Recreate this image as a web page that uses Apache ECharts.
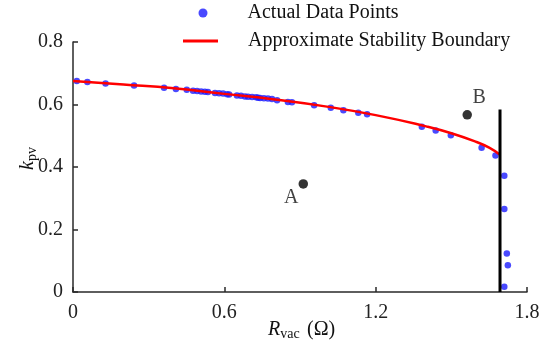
<!DOCTYPE html>
<html><head><meta charset="utf-8">
<script src="https://cdn.jsdelivr.net/npm/echarts@6/dist/echarts.min.js"></script>
<style>html,body{margin:0;padding:0;background:#fff}#c{width:558px;height:345px}</style>
</head><body><div id="c"></div>
<script>
var dataX = [0.015,0.057,0.129,0.242,0.361,0.408,0.451,0.476,0.492,0.508,0.523,0.535,0.563,0.579,0.595,0.611,0.619,0.650,0.666,0.682,0.694,0.710,0.726,0.734,0.742,0.757,0.773,0.789,0.809,0.852,0.868,0.956,1.022,1.072,1.131,1.166,1.383,1.438,1.498,1.620,1.675,1.710,1.710,1.720,1.724,1.710];
var dataY = [0.675,0.672,0.667,0.661,0.654,0.650,0.647,0.644,0.643,0.642,0.641,0.640,0.637,0.636,0.635,0.633,0.632,0.629,0.628,0.626,0.625,0.624,0.623,0.622,0.621,0.620,0.619,0.618,0.614,0.608,0.607,0.598,0.590,0.582,0.574,0.569,0.529,0.517,0.502,0.462,0.437,0.372,0.266,0.123,0.086,0.017];
var curveX = [0,0.2,0.4,0.6,0.8,1.0,1.2,1.4,1.5,1.6,1.65,1.69];
var curveY = [0.675,0.664,0.652,0.634,0.616,0.594,0.566,0.530,0.508,0.480,0.462,0.441];
var limitX = [1.693,1.693];
var limitY = [0,0.584];
var markNames = ['A','B'];
var markX = [0.913,1.563];
var markY = [0.346,0.567];
var xTicks = [0,0.6,1.2,1.8];
var yTicks = [0,0.2,0.4,0.6,0.8];

var FF = 'Liberation Serif, Times New Roman, serif';
var zip = function(a,b){return a.map(function(v,i){return [v,b[i]];});};
var labelOffsets = [[-12,14],[12,-17]];
var chart = echarts.init(document.getElementById('c'));
chart.setOption({
  animation:false,
  textStyle:{fontFamily:FF},
  grid:{left:73,right:31,top:42,bottom:53},
  legend:[{
    data:[{name:'Actual Data Points',icon:'circle'}],left:198.5,top:3,padding:0,itemWidth:9,itemHeight:9,
    textStyle:{fontFamily:FF,fontSize:20,color:'#111',padding:[0,0,0,35]}
  },{
    data:[{name:'Approximate Stability Boundary',icon:'rect'}],left:183,top:31,padding:0,itemWidth:35,itemHeight:3,
    textStyle:{fontFamily:FF,fontSize:20,color:'#111',padding:[0,0,0,25]}
  }],
  xAxis:{type:'value',min:0,max:1.8,interval:0.6,
    axisLine:{lineStyle:{color:'#2a2a2a',width:1.5}},
    axisTick:{inside:true,length:5,lineStyle:{color:'#2a2a2a',width:1.5}},
    axisLabel:{fontFamily:FF,fontSize:20,color:'#222',margin:11},
    splitLine:{show:false}},
  yAxis:{type:'value',min:0,max:0.8,interval:0.2,
    axisLine:{show:true,lineStyle:{color:'#2a2a2a',width:1.5}},
    axisTick:{show:true,inside:true,length:5,lineStyle:{color:'#2a2a2a',width:1.5}},
    axisLabel:{fontFamily:FF,fontSize:20,color:'#222',margin:10},
    splitLine:{show:false}},
  graphic:[{
    type:'text',left:268,top:320,
    style:{rich:{i:{fontFamily:FF,fontSize:20,fontStyle:'italic',fill:'#111'},
                 s:{fontFamily:FF,fontSize:14,fill:'#111',padding:[9,0,0,0]},
                 n:{fontFamily:FF,fontSize:20,fill:'#111',padding:[0,0,0,4]}},
           text:'{i|R}{s|vac} {n|(Ω)}'}
  },{
    type:'text',x:16,y:170,rotation:Math.PI/2,
    style:{rich:{i:{fontFamily:FF,fontSize:20,fontStyle:'italic',fill:'#111'},
                 s:{fontFamily:FF,fontSize:14,fill:'#111',padding:[9,0,0,0]}},
           text:'{i|k}{s|pv}'}
  }],
  series:[{
    name:'Actual Data Points',type:'scatter',symbolSize:6.5,z:3,
    itemStyle:{color:'#1c1cff'},data:zip(dataX,dataY)
  },{
    name:'Approximate Stability Boundary',type:'line',smooth:true,showSymbol:false,symbol:'none',z:4,
    lineStyle:{color:'#ff0000',width:2.5},itemStyle:{color:'#ff0000'},data:zip(curveX,curveY)
  },{
    name:'limit',type:'line',showSymbol:false,symbol:'none',z:5,
    lineStyle:{color:'#000',width:3},data:zip(limitX,limitY)
  },{
    name:'marks',type:'scatter',symbolSize:9.5,z:6,itemStyle:{color:'#000'},
    label:{show:true,position:'inside',fontFamily:FF,fontSize:20,color:'#111',formatter:function(p){return p.name;}},
    data:markNames.map(function(n,i){return {name:n,value:[markX[i],markY[i]],label:{offset:labelOffsets[i]}};})
  }]
});
</script></body></html>
